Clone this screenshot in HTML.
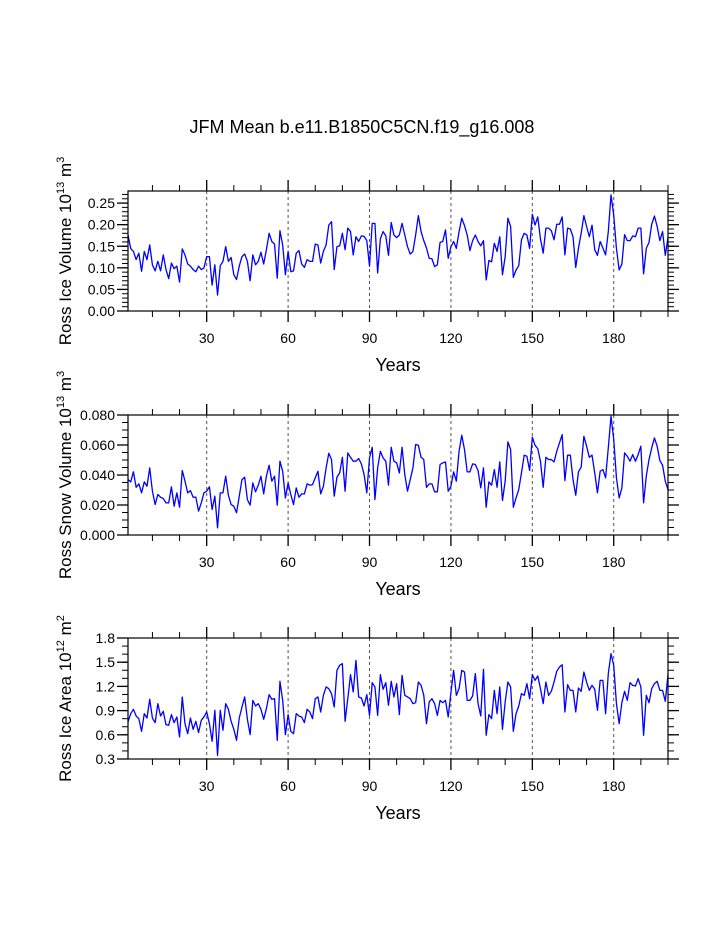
<!DOCTYPE html>
<html><head><meta charset="utf-8">
<style>
html,body{margin:0;padding:0;background:#fff;}
svg{display:block;font-family:"Liberation Sans",sans-serif;}
</style></head>
<body>
<svg id="chart" width="723" height="935" viewBox="0 0 723 935">
<text x="362" y="133" text-anchor="middle" font-size="18">JFM Mean b.e11.B1850C5CN.f19_g16.008</text>
</svg>
<script>
const iceVolume = [0.176,0.145,0.138,0.119,0.134,0.092,0.138,0.119,0.153,0.107,0.093,0.115,0.093,0.130,0.096,0.075,0.111,0.098,0.104,0.067,0.144,0.130,0.109,0.104,0.096,0.091,0.104,0.096,0.100,0.126,0.126,0.060,0.107,0.037,0.105,0.115,0.149,0.115,0.124,0.084,0.073,0.104,0.126,0.132,0.115,0.070,0.130,0.107,0.115,0.136,0.109,0.142,0.180,0.161,0.155,0.076,0.186,0.153,0.084,0.138,0.091,0.093,0.134,0.140,0.109,0.101,0.119,0.115,0.115,0.155,0.153,0.111,0.138,0.153,0.199,0.207,0.096,0.149,0.151,0.180,0.142,0.192,0.184,0.130,0.172,0.161,0.174,0.173,0.163,0.104,0.203,0.203,0.088,0.167,0.184,0.174,0.129,0.205,0.176,0.170,0.176,0.203,0.176,0.149,0.132,0.138,0.176,0.221,0.184,0.163,0.146,0.122,0.121,0.103,0.107,0.159,0.161,0.188,0.122,0.149,0.161,0.145,0.184,0.215,0.198,0.176,0.140,0.163,0.176,0.161,0.151,0.163,0.072,0.117,0.114,0.157,0.138,0.172,0.084,0.126,0.215,0.196,0.078,0.095,0.105,0.165,0.180,0.176,0.145,0.224,0.199,0.218,0.167,0.134,0.192,0.192,0.186,0.165,0.201,0.201,0.218,0.130,0.192,0.190,0.172,0.101,0.145,0.180,0.221,0.196,0.172,0.199,0.142,0.129,0.161,0.146,0.130,0.184,0.269,0.222,0.145,0.095,0.109,0.177,0.163,0.163,0.174,0.172,0.192,0.192,0.086,0.145,0.159,0.201,0.220,0.196,0.163,0.184,0.129,0.170];
const snowVolume = [0.0369,0.0354,0.0421,0.0318,0.0341,0.0281,0.0354,0.0325,0.0447,0.0292,0.0203,0.0270,0.0252,0.0243,0.0214,0.0214,0.0321,0.0192,0.0281,0.0185,0.0430,0.0359,0.0281,0.0296,0.0252,0.0252,0.0159,0.0214,0.0281,0.0292,0.0321,0.0170,0.0259,0.0048,0.0281,0.0281,0.0392,0.0265,0.0203,0.0192,0.0148,0.0259,0.0369,0.0385,0.0236,0.0199,0.0347,0.0288,0.0332,0.0392,0.0274,0.0392,0.0465,0.0359,0.0392,0.0199,0.0492,0.0425,0.0247,0.0347,0.0270,0.0203,0.0314,0.0252,0.0274,0.0274,0.0341,0.0332,0.0336,0.0381,0.0425,0.0274,0.0325,0.0447,0.0545,0.0503,0.0259,0.0385,0.0414,0.0518,0.0292,0.0547,0.0518,0.0492,0.0492,0.0510,0.0474,0.0403,0.0281,0.0514,0.0585,0.0236,0.0447,0.0558,0.0514,0.0492,0.0332,0.0585,0.0492,0.0481,0.0414,0.0585,0.0403,0.0292,0.0369,0.0447,0.0603,0.0598,0.0518,0.0503,0.0318,0.0341,0.0341,0.0288,0.0288,0.0470,0.0481,0.0487,0.0292,0.0325,0.0421,0.0359,0.0558,0.0665,0.0570,0.0421,0.0421,0.0474,0.0470,0.0430,0.0314,0.0447,0.0185,0.0354,0.0332,0.0436,0.0318,0.0487,0.0230,0.0359,0.0621,0.0570,0.0185,0.0247,0.0303,0.0414,0.0532,0.0525,0.0430,0.0652,0.0598,0.0576,0.0492,0.0318,0.0518,0.0503,0.0503,0.0487,0.0558,0.0614,0.0669,0.0363,0.0532,0.0532,0.0369,0.0265,0.0421,0.0452,0.0658,0.0592,0.0518,0.0532,0.0414,0.0281,0.0425,0.0436,0.0381,0.0581,0.0792,0.0636,0.0381,0.0247,0.0314,0.0547,0.0525,0.0492,0.0536,0.0492,0.0536,0.0592,0.0214,0.0392,0.0503,0.0581,0.0647,0.0592,0.0496,0.0465,0.0359,0.0303];
const iceArea = [0.759,0.862,0.916,0.833,0.800,0.643,0.862,0.808,1.040,0.808,0.751,0.986,0.833,0.891,0.726,0.718,0.850,0.751,0.821,0.573,1.069,0.738,0.614,0.808,0.668,0.767,0.627,0.780,0.821,0.883,0.738,0.519,0.904,0.346,0.904,0.656,0.986,0.916,0.767,0.668,0.532,0.808,0.945,1.069,0.792,0.602,1.027,0.957,0.986,0.916,0.792,0.924,1.098,1.040,1.048,0.532,1.263,1.027,0.602,0.850,0.643,0.614,0.862,0.833,0.821,0.751,0.916,0.883,0.800,1.048,1.069,0.883,1.089,1.193,1.172,1.110,0.945,1.399,1.461,1.482,0.767,1.048,1.345,1.131,1.523,1.069,1.056,0.957,1.098,0.841,1.246,1.193,0.841,1.345,1.164,1.246,0.965,1.263,1.069,1.234,0.850,1.337,1.089,1.069,1.048,0.986,0.998,1.254,1.213,1.089,0.738,1.007,1.048,0.986,0.841,1.027,0.998,1.027,0.821,1.122,1.399,1.089,1.172,1.399,1.378,1.027,1.027,1.081,1.358,0.986,0.833,1.411,0.594,0.850,0.800,1.151,0.862,1.193,0.668,1.007,1.254,1.193,0.643,0.862,0.957,1.110,1.089,1.234,1.048,1.345,1.275,1.329,1.172,0.986,1.254,1.089,1.139,1.254,1.387,1.440,1.469,0.883,1.221,1.151,1.151,0.883,1.180,1.139,1.378,1.254,1.151,1.213,1.164,0.904,1.275,1.275,0.862,1.358,1.606,1.461,0.986,0.738,0.998,1.139,1.027,1.246,1.213,1.205,1.296,1.193,0.594,1.089,0.998,1.172,1.234,1.263,1.151,1.151,1.015,1.345];
const xTickLabels = [30,60,90,120,150,180];
const iceVolTicks = ["0.00","0.05","0.10","0.15","0.20","0.25"];
const snowTicks = ["0.000","0.020","0.040","0.060","0.080"];
const areaTicks = ["0.3","0.6","0.9","1.2","1.5","1.8"];

const NS = "http://www.w3.org/2000/svg";
const svg = document.getElementById("chart");
function mk(tag, attrs, parent){
  const e = document.createElementNS(NS, tag);
  for (const k in attrs) e.setAttribute(k, attrs[k]);
  (parent||svg).appendChild(e);
  return e;
}
const X0=128, X1=668, XMIN=1, XMAX=200;
const MAJ=11, MIN=6;
function xs(t){ return X0 + (t-XMIN)/(XMAX-XMIN)*(X1-X0); }

const panels = [
  {key:"ice-volume", data:iceVolume, top:191, bot:311, ymin:0, ymax:0.278, ticks:iceVolTicks, minor:0.01,
   title:["Ross Ice Volume 10","13"," m","3"]},
  {key:"snow-volume", data:snowVolume, top:415, bot:535, ymin:0, ymax:0.08, ticks:snowTicks, minor:0.005,
   title:["Ross Snow Volume 10","13"," m","3"]},
  {key:"ice-area", data:iceArea, top:638, bot:759, ymin:0.3, ymax:1.8, ticks:areaTicks, minor:0.1,
   title:["Ross Ice Area 10","12"," m","2"]}
];

panels.forEach(p=>{
  const g = mk("g",{});
  
  
  const ys = v => p.bot - (v-p.ymin)/(p.ymax-p.ymin)*(p.bot-p.top);
  xTickLabels.forEach(t=>{
    const l = mk("line",{x1:xs(t),x2:xs(t),y1:p.top,y2:p.bot,stroke:"#555","stroke-width":1,"stroke-dasharray":"3,3"},g);
    
    
  });
  for (let t=10;t<=200;t+=10){
    const major = t%30===0;
    const len = major?MAJ:MIN;
    const x = xs(t);
    mk("line",{x1:x,x2:x,y1:p.bot,y2:p.bot+len,stroke:"#000","stroke-width":major?1.3:1},g);
    mk("line",{x1:x,x2:x,y1:p.top,y2:p.top-len,stroke:"#000","stroke-width":major?1.3:1},g);
  }
  xTickLabels.forEach(t=>{
    const tx = mk("text",{x:xs(t),y:p.bot+32,"text-anchor":"middle","font-size":14},g);
    tx.textContent = t;
    
    
  });
  const xt = mk("text",{x:(X0+X1)/2,y:p.bot+60,"text-anchor":"middle","font-size":18},g);
  xt.textContent = "Years";
  
  
  const nMinor = Math.round((p.ymax-p.ymin)/p.minor);
  for (let i=0;i<=nMinor;i++){
    const v = p.ymin + i*p.minor;
    const y = ys(v);
    if (y < p.top-0.5) break;
    mk("line",{x1:X0,x2:X0-MIN,y1:y,y2:y,stroke:"#000","stroke-width":1},g);
    mk("line",{x1:X1,x2:X1+MIN,y1:y,y2:y,stroke:"#000","stroke-width":1},g);
  }
  p.ticks.forEach(s=>{
    const y = ys(parseFloat(s));
    mk("line",{x1:X0,x2:X0-MAJ,y1:y,y2:y,stroke:"#000","stroke-width":1.3},g);
    mk("line",{x1:X1,x2:X1+MAJ,y1:y,y2:y,stroke:"#000","stroke-width":1.3},g);
    const tx = mk("text",{x:X0-13,y:y+5,"text-anchor":"end","font-size":14},g);
    tx.textContent = s;
    
    
  });
  const cy = (p.top+p.bot)/2;
  const yt = mk("text",{x:0,y:0,"font-size":17,"text-anchor":"middle",transform:`translate(71,${cy}) rotate(-90)`},g);
  
  
  const s1 = mk("tspan",{},yt); s1.textContent = p.title[0];
  const s2 = mk("tspan",{dy:-7,"font-size":11},yt); s2.textContent = p.title[1];
  const s3 = mk("tspan",{dy:7},yt); s3.textContent = p.title[2];
  const s4 = mk("tspan",{dy:-7,"font-size":11},yt); s4.textContent = p.title[3];
  const pts = p.data.map((v,i)=> xs(i+1).toFixed(2)+","+ys(v).toFixed(2)).join(" ");
  const line = mk("polyline",{points:pts,fill:"none",stroke:"#0000ff","stroke-width":1.3,"stroke-linejoin":"round"},g);
  
  
  const fr = mk("rect",{x:X0,y:p.top,width:X1-X0,height:p.bot-p.top,fill:"none",stroke:"#000","stroke-width":1.2},g);
  
  
});
</script>
</body></html>
